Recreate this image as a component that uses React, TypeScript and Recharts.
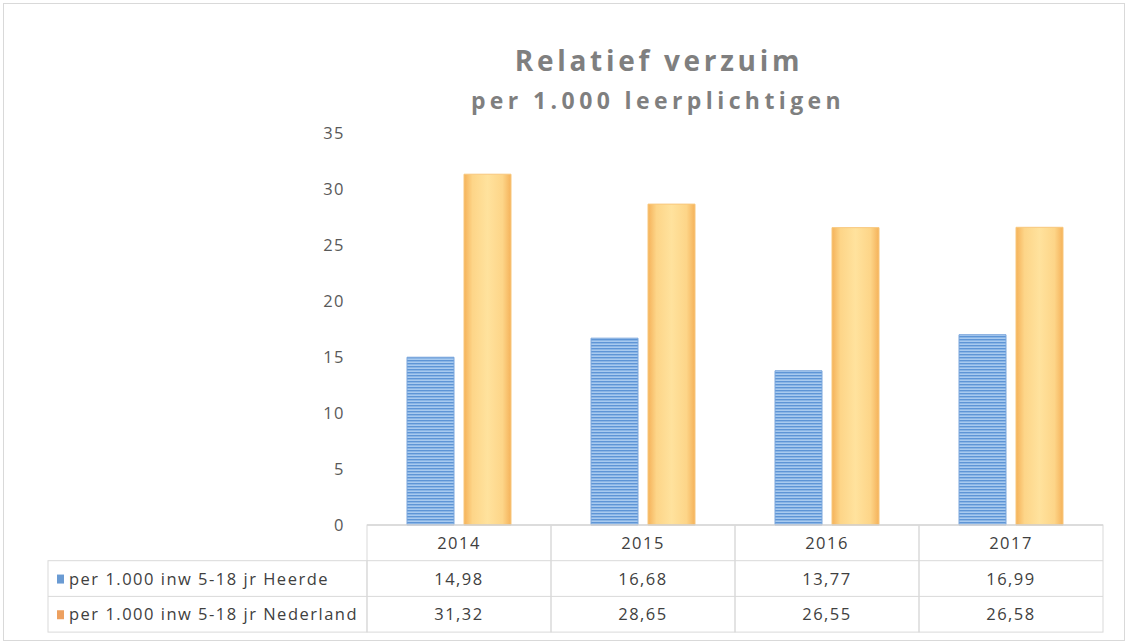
import { Bar, BarChart, XAxis, YAxis } from "recharts";

const years = ["2014", "2015", "2016", "2017"];
const heerde = [14.98, 16.68, 13.77, 16.99];
const nederland = [31.32, 28.65, 26.55, 26.58];
const seriesNames = ["per 1.000 inw 5-18 jr Heerde", "per 1.000 inw 5-18 jr Nederland"];
const yTicks = [0, 5, 10, 15, 20, 25, 30, 35];

const W = 1128;
const H = 644;
const LEFT = 367;
const RIGHT = 1103;
const TOP = 133;
const BOTTOM = 525;
const Y_W = 60;
const ROW_H = 35.7;
const TABLE_LEFT = 48;
const CELL_W = (RIGHT - LEFT) / years.length;
const GRID = "#d9d9d9";
const TXT = "#404040";
const FONT = "'Open Sans', 'Noto Sans', sans-serif";
const FS = 16.5;
const LS = 1.5;

const data = years.map((year, i) => ({ year, heerde: heerde[i], nederland: nederland[i] }));
const fmt = (v: number) => v.toFixed(2).replace(".", ",");

const TableTick = (props: any) => {
  const { x, payload } = props;
  const i = payload.index;
  const x0 = x - CELL_W / 2;
  const rows = [years[i], fmt(heerde[i]), fmt(nederland[i])];
  return (
    <g>
      <rect x={x0} y={BOTTOM} width={CELL_W} height={ROW_H * 3} fill="none" stroke={GRID} />
      <line x1={x0} x2={x0 + CELL_W} y1={BOTTOM + ROW_H} y2={BOTTOM + ROW_H} stroke={GRID} />
      <line x1={x0} x2={x0 + CELL_W} y1={BOTTOM + ROW_H * 2} y2={BOTTOM + ROW_H * 2} stroke={GRID} />
      {rows.map((t, r) => (
        <text key={r} x={x} y={BOTTOM + ROW_H * r + ROW_H / 2 + 6} textAnchor="middle" fontSize={FS} letterSpacing={LS} fill={TXT} fontFamily={FONT}>
          {t}
        </text>
      ))}
      {i === 0 && (
        <g>
          <rect x={TABLE_LEFT} y={BOTTOM + ROW_H} width={LEFT - TABLE_LEFT} height={ROW_H * 2} fill="none" stroke={GRID} />
          <line x1={TABLE_LEFT} x2={LEFT} y1={BOTTOM + ROW_H * 2} y2={BOTTOM + ROW_H * 2} stroke={GRID} />
          {seriesNames.map((name, r) => (
            <g key={name}>
              <rect x={57} y={BOTTOM + ROW_H * (r + 1) + ROW_H / 2 - 4} width={7} height={9} fill={r === 0 ? "#6a9bd3" : "#eda05f"} />
              <text x={69} y={BOTTOM + ROW_H * (r + 1) + ROW_H / 2 + 6} fontSize={FS} letterSpacing={LS} fill={TXT} fontFamily={FONT}>
                {name}
              </text>
            </g>
          ))}
        </g>
      )}
    </g>
  );
};

const App = () => {
  return (
    <div style={{ position: "absolute", left: 0, top: 0, width: W, height: H, background: "#fff", fontFamily: FONT }}>
      <svg width={0} height={0} style={{ position: "absolute" }}>
        <defs>
          <pattern id="blueStripes" width={4} height={3} patternUnits="userSpaceOnUse">
            <rect width={4} height={3} fill="#a8caef" />
            <rect width={4} height={1.4} fill="#5e95d6" />
          </pattern>
          <linearGradient id="orangeGrad" x1="0" y1="0" x2="1" y2="0">
            <stop offset="0%" stopColor="#f5b25a" />
            <stop offset="18%" stopColor="#fdd588" />
            <stop offset="50%" stopColor="#ffe29d" />
            <stop offset="82%" stopColor="#fdd588" />
            <stop offset="100%" stopColor="#f5b25a" />
          </linearGradient>
        </defs>
      </svg>
      <div style={{ position: "absolute", left: 3, top: 3, width: W - 8, height: H - 8, border: "1px solid #d9d9d9" }} />
      <div style={{ position: "absolute", left: 0, width: W, top: 42, textAlign: "center", paddingLeft: 190, boxSizing: "border-box", fontSize: 28, fontWeight: 700, color: "#7f7f7f", letterSpacing: 3.7, lineHeight: "36px" }}>
        Relatief verzuim
      </div>
      <div style={{ position: "absolute", left: 0, width: W, top: 85, textAlign: "center", paddingLeft: 188, boxSizing: "border-box", fontSize: 23, fontWeight: 700, color: "#7f7f7f", letterSpacing: 4.4, lineHeight: "30px" }}>
        per 1.000 leerplichtigen
      </div>
      <div style={{ position: "absolute", left: 0, top: 0 }}>
        <BarChart
          width={W}
          height={H}
          data={data}
          margin={{ top: TOP, right: W - RIGHT, bottom: 0, left: LEFT - Y_W }}
          barSize={47}
          barGap={10}
        >
          <XAxis
            dataKey="year"
            axisLine={{ stroke: "#bfbfbf" }}
            tickLine={false}
            interval={0}
            tick={<TableTick />}
            height={H - BOTTOM}
          />
          <YAxis
            width={Y_W}
            domain={[0, 35]}
            ticks={yTicks}
            axisLine={false}
            tickLine={false}
            tickMargin={16}
            tick={{ fill: "#595959", fontSize: FS, letterSpacing: LS, fontFamily: FONT }}
          />
          <Bar dataKey="heerde" name={seriesNames[0]} fill="url(#blueStripes)" stroke="#7aa6dc" strokeWidth={1} isAnimationActive={false} />
          <Bar dataKey="nederland" name={seriesNames[1]} fill="url(#orangeGrad)" stroke="#f8c77c" strokeWidth={1} isAnimationActive={false} />
        </BarChart>
      </div>
    </div>
  );
};

export default App;
